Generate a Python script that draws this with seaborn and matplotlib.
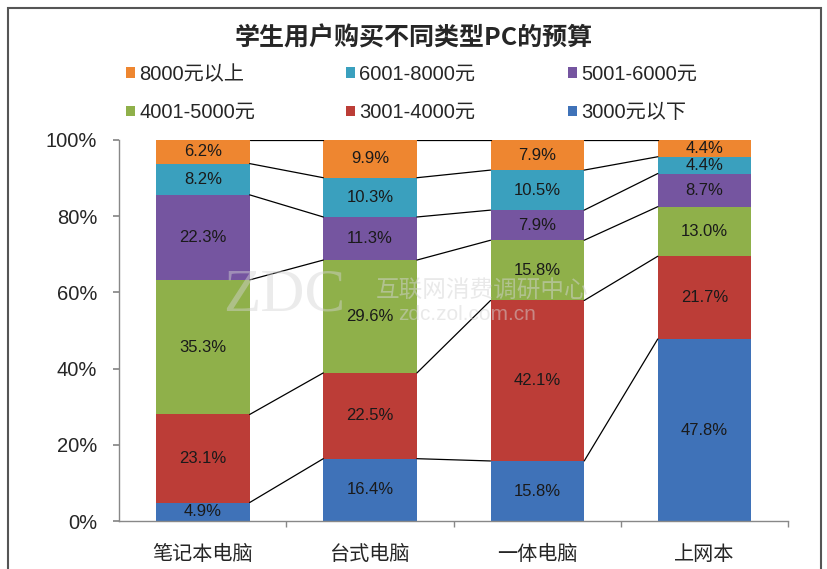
import numpy as np
import pandas as pd
import matplotlib
matplotlib.use("Agg")
import matplotlib.pyplot as plt
import seaborn as sns
from matplotlib.patches import Rectangle

# Data
categories = ["笔记本电脑", "台式电脑", "一体电脑", "上网本"]
series = ["3000元以下", "3001-4000元", "4001-5000元", "5001-6000元", "6001-8000元", "8000元以上"]
v_3000 = [4.9, 16.4, 15.8, 47.8]
v_4000 = [23.1, 22.5, 42.1, 21.7]
v_5000 = [35.3, 29.6, 15.8, 13.0]
v_6000 = [22.3, 11.3, 7.9, 8.7]
v_8000 = [8.2, 10.3, 10.5, 4.4]
v_over = [6.2, 9.9, 7.9, 4.4]
colors = ["#3F72B8", "#BC3D37", "#8FB04A", "#7555A0", "#3AA0BE", "#EE8630"]

sns.set_theme(style="white")
plt.rcParams["font.family"] = ["Liberation Sans", "Noto Sans CJK SC", "DejaVu Sans"]

vals = np.array([v_3000, v_4000, v_5000, v_6000, v_8000, v_over])
cum = vals.cumsum(axis=0)
df = pd.DataFrame(cum.T, columns=series)
df["cat"] = categories

fig = plt.figure(figsize=(8.28, 5.69), dpi=100)
ax = fig.add_axes([0.144, 0.084, 0.808, 0.670])

bar_w = 0.56
# cumulative bars, tallest first so the lower segments sit on top
for i in range(len(series) - 1, -1, -1):
    sns.barplot(data=df, x="cat", y=series[i], color=colors[i], width=bar_w,
                saturation=1, ax=ax, label=series[i], edgecolor="none")

# connector lines between bars
for i in range(len(series)):
    for j in range(len(categories) - 1):
        ax.plot([j + bar_w / 2, j + 1 - bar_w / 2], [cum[i, j], cum[i, j + 1]],
                color="black", lw=0.9, zorder=1)

# value labels
for i in range(len(series)):
    for j in range(len(categories)):
        y = cum[i, j] - vals[i, j] / 2
        ax.text(j, y, f"{vals[i, j]:.1f}%", ha="center", va="center",
                fontsize=12, color="#1a1a1a", zorder=7)

ax.set_ylim(0, 100)
ax.set_xlim(-0.5, 3.5)
ax.set_yticks([0, 20, 40, 60, 80, 100])
ax.set_yticklabels([f"{t}%" for t in [0, 20, 40, 60, 80, 100]], fontsize=14.5)
ax.set_xticks([0.5, 1.5, 2.5, 3.5], minor=True)
ax.tick_params(axis="x", which="major", labelsize=14.5, pad=11, bottom=False)
ax.tick_params(axis="x", which="minor", bottom=True, length=4, color="#888888")
ax.tick_params(axis="y", left=True, length=4, color="#888888", pad=12)
ax.set_xlabel("")
ax.set_ylabel("")
for s in ["top", "right"]:
    ax.spines[s].set_visible(False)
for s in ["left", "bottom"]:
    ax.spines[s].set_color("#888888")
    ax.spines[s].set_linewidth(1)

# legend in three columns placed by hand
handles, labels = ax.get_legend_handles_labels()
hmap = dict(zip(labels, handles))
if ax.get_legend() is not None:
    ax.get_legend().remove()
cols = [["8000元以上", "4001-5000元"], ["6001-8000元", "3001-4000元"], ["5001-6000元", "3000元以下"]]
col_x = [126, 346, 568]
for cx, names in zip(col_x, cols):
    fig.legend([hmap[n] for n in names], names, loc="upper left",
               bbox_to_anchor=(cx / 828, 1 - 65 / 569), frameon=False, fontsize=14.5,
               handlelength=0.45, handleheight=0.45, handletextpad=0.2,
               labelspacing=0.95, borderpad=0, borderaxespad=0)

fig.text(0.5, 1 - 38 / 569, "学生用户购买不同类型PC的预算", ha="center", va="center",
         fontsize=18, fontweight="bold", family=["Noto Sans CJK SC"])

# faint watermark
fig.text(284 / 828, 1 - 296 / 569, "ZDC", fontsize=44, color="#d4d4d4", alpha=0.45,
         ha="center", va="center", family=["Liberation Serif"], zorder=6)
fig.text(376 / 828, 1 - 290 / 569, "互联网消费调研中心", fontsize=17, color="#d4d4d4",
         alpha=0.5, va="center", family=["Noto Sans CJK SC"], zorder=6)
fig.text(398 / 828, 1 - 315 / 569, "zdc.zol.com.cn", fontsize=15, color="#d4d4d4",
         alpha=0.5, va="center", zorder=6)

# outer frame
fig.patches.append(Rectangle((0.01, -0.05), 0.982, 1.036, transform=fig.transFigure,
                             fill=False, edgecolor="#555555", lw=1.5))

fig.savefig("out.png", dpi=100)
